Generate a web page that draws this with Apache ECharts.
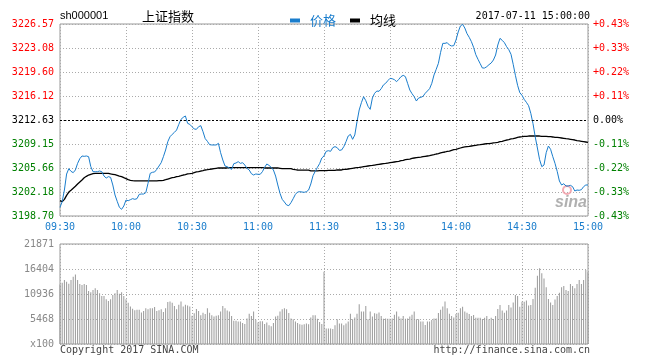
<!DOCTYPE html>
<html><head><meta charset="utf-8">
<script src="https://cdn.jsdelivr.net/npm/echarts@6/dist/echarts.min.js"></script>
<style>html,body{margin:0;padding:0;background:#fff}#c{width:650px;height:364px}</style>
</head><body><div id="c"></div>
<script>
const timeLabels = ['09:30','10:00','10:30','11:00','11:30','13:30','14:00','14:30','15:00'];
const priceTicks = [3198.70, 3202.18, 3205.66, 3209.15, 3212.63, 3216.12, 3219.60, 3223.08, 3226.57];
const pctLabels = ['-0.43%','-0.33%','-0.22%','-0.11%','0.00%','+0.11%','+0.22%','+0.33%','+0.43%'];
const volTicks = [0, 5468, 10936, 16404, 21871];
const volLabels = ['x100','5468','10936','16404','21871'];
const prevClose = 3212.63;

const price = [
3199.96,3200.78,3202.47,3204.79,3205.57,3205.18,3204.99,3205.38,3206.34,3207.02,
3207.41,3207.36,3207.41,3207.31,3205.86,3205.13,3205.13,3205.13,3205.23,3205.13,
3204.50,3204.21,3204.41,3204.31,3203.20,3201.75,3200.83,3199.96,3199.67,3200.15,
3201.02,3200.92,3201.07,3201.22,3201.12,3201.22,3201.84,3201.89,3201.89,3202.09,
3203.44,3204.89,3205.04,3205.09,3205.47,3205.96,3206.44,3207.31,3208.28,3209.49,
3210.21,3210.55,3210.84,3211.18,3212.00,3212.73,3213.02,3213.22,3212.15,3212.00,
3211.66,3211.33,3211.28,3211.66,3211.81,3210.94,3209.93,3209.54,3209.05,3209.01,
3209.01,3209.01,3209.25,3207.89,3206.83,3205.96,3205.86,3205.67,3205.47,3206.30,
3206.39,3206.59,3206.34,3206.44,3206.10,3205.62,3205.38,3204.84,3204.65,3204.80,
3204.75,3204.75,3205.13,3205.76,3206.25,3206.05,3205.76,3205.38,3204.50,3203.20,
3201.99,3201.12,3200.73,3200.30,3200.20,3200.64,3201.22,3201.84,3202.18,3202.23,
3202.18,3202.14,3202.23,3202.47,3203.35,3204.55,3205.18,3205.76,3206.30,3207.12,
3207.41,3208.09,3208.18,3208.09,3208.62,3208.77,3208.62,3208.23,3208.28,3208.77,
3209.49,3210.31,3210.55,3209.83,3210.46,3212.39,3214.09,3215.15,3216.02,3215.44,
3214.62,3214.18,3215.83,3216.51,3216.84,3216.80,3217.18,3217.72,3217.96,3218.34,
3218.68,3218.63,3218.49,3218.20,3218.54,3218.93,3219.12,3218.93,3217.96,3216.99,
3216.46,3216.02,3215.39,3215.83,3215.92,3216.07,3216.51,3216.84,3217.18,3217.96,
3219.17,3219.99,3220.86,3222.46,3223.76,3223.76,3223.86,3223.52,3223.38,3223.43,
3224.25,3225.41,3226.28,3226.52,3225.99,3225.17,3224.64,3224.01,3223.18,3222.12,
3221.44,3220.81,3220.18,3220.18,3220.38,3220.67,3220.91,3221.34,3222.07,3223.52,
3224.49,3224.20,3223.86,3223.28,3222.84,3222.17,3220.72,3219.12,3217.67,3216.60,
3216.22,3215.63,3215.20,3214.71,3213.60,3212.10,3210.21,3208.57,3206.88,3205.86,
3206.10,3207.89,3208.86,3208.38,3207.31,3206.34,3205.18,3203.78,3203.20,3203.39,
3203.05,3203.05,3203.15,3202.96,3202.33,3202.47,3202.43,3202.52,3202.96,3203.20,
3203.20
];

const avgLine = [
3200.93,3200.78,3201.12,3201.70,3202.18,3202.43,3202.72,3203.01,3203.35,3203.64,
3203.93,3204.26,3204.46,3204.65,3204.75,3204.84,3204.89,3204.89,3204.89,3204.89,
3204.89,3204.89,3204.89,3204.80,3204.75,3204.70,3204.60,3204.50,3204.41,3204.26,
3204.12,3203.97,3203.88,3203.83,3203.80,3203.80,3203.80,3203.80,3203.80,3203.80,
3203.80,3203.80,3203.80,3203.80,3203.80,3203.83,3203.83,3203.88,3203.97,3204.07,
3204.17,3204.26,3204.31,3204.41,3204.46,3204.55,3204.65,3204.70,3204.80,3204.84,
3204.89,3204.99,3205.09,3205.13,3205.23,3205.28,3205.38,3205.42,3205.47,3205.52,
3205.57,3205.62,3205.67,3205.67,3205.67,3205.67,3205.67,3205.72,3205.72,3205.72,
3205.72,3205.72,3205.72,3205.72,3205.72,3205.72,3205.72,3205.72,3205.72,3205.72,
3205.72,3205.72,3205.72,3205.67,3205.67,3205.67,3205.67,3205.67,3205.67,3205.67,
3205.62,3205.57,3205.57,3205.57,3205.57,3205.57,3205.47,3205.42,3205.38,3205.35,
3205.35,3205.35,3205.35,3205.35,3205.25,3205.25,3205.25,3205.25,3205.28,3205.28,
3205.28,3205.28,3205.33,3205.33,3205.33,3205.33,3205.38,3205.38,3205.38,3205.47,
3205.47,3205.52,3205.57,3205.62,3205.67,3205.72,3205.76,3205.81,3205.86,3205.91,
3205.96,3206.01,3206.05,3206.10,3206.15,3206.20,3206.25,3206.30,3206.34,3206.39,
3206.44,3206.49,3206.54,3206.59,3206.63,3206.73,3206.78,3206.88,3206.93,3206.97,
3207.07,3207.12,3207.17,3207.22,3207.26,3207.31,3207.36,3207.41,3207.46,3207.55,
3207.60,3207.70,3207.75,3207.85,3207.94,3207.99,3208.09,3208.13,3208.23,3208.33,
3208.38,3208.47,3208.57,3208.67,3208.72,3208.77,3208.81,3208.86,3208.91,3208.96,
3209.01,3209.05,3209.10,3209.15,3209.20,3209.20,3209.25,3209.30,3209.34,3209.39,
3209.49,3209.54,3209.63,3209.73,3209.78,3209.88,3209.92,3210.02,3210.12,3210.17,
3210.21,3210.26,3210.26,3210.31,3210.31,3210.31,3210.31,3210.31,3210.31,3210.26,
3210.26,3210.26,3210.21,3210.21,3210.17,3210.12,3210.12,3210.07,3210.02,3209.97,
3209.92,3209.88,3209.83,3209.78,3209.73,3209.63,3209.59,3209.54,3209.49,3209.44,
3209.39
];

const volume = [
13000,13400,14000,13600,13200,14000,14700,15200,14000,13100,
12900,13100,12900,11600,11300,11800,12200,11800,11100,10500,
10500,9800,9400,9800,10700,11100,11800,11000,11300,10500,
9800,9000,8200,7700,7400,7500,7500,6900,7200,7800,
7600,7800,7800,8100,7200,7400,7600,7000,7800,9200,
9300,9000,8300,7600,8600,9300,8200,8600,8400,8200,
6200,6700,7650,7200,6300,6850,6550,7800,6850,6300,
6000,6200,6300,7100,8300,7800,7300,7100,6100,5100,
5100,4900,4900,4600,4400,5600,6600,6100,7100,5300,
4700,5000,5000,4400,4700,4100,3900,4600,6000,6200,
7100,7600,7800,7600,6800,5600,5400,4900,4600,4300,
4200,4300,4500,4300,5800,6300,6300,5500,4800,4400,
15800,3400,3400,3400,3300,4100,5400,4500,4500,4100,
4500,4900,6600,5400,5800,6600,8700,7100,7100,8300,
5400,7100,6000,6700,6600,6900,6100,5500,5600,5500,
5500,5600,6400,7100,6000,5600,6100,5500,5600,6000,
6400,7100,5400,5400,4900,4900,4150,4900,4900,5250,
5600,5600,6800,7500,8200,9300,7800,6600,6100,5800,
6550,6850,7800,8150,7100,6850,6550,6100,6350,5750,
5750,5750,5450,5750,6100,5400,5750,5450,6100,7650,
8550,7300,6850,7300,8550,8000,9050,10700,10500,8150,
9250,9250,9500,8400,8550,9850,12300,14900,16550,15450,
14350,12400,9850,9050,8550,9750,10500,11200,12400,12700,
11800,11600,13100,12700,12200,13100,14000,13100,14000,16200,
15700
];

const MONO = 'DejaVu Sans Mono';
const RED = '#ff0000', GREEN = '#008000', BLUE = '#1a7dcc';
function tickColor(v) {
  if (Math.abs(v - prevClose) < 0.005) return '#000';
  return v > prevClose ? RED : GREEN;
}
function tickIndex(v) {
  let best = 0, d = Infinity;
  priceTicks.forEach((t, i) => { const e = Math.abs(t - v); if (e < d) { d = e; best = i; } });
  return best;
}
function volIndex(v) {
  let best = 0, d = Infinity;
  volTicks.forEach((t, i) => { const e = Math.abs(t - v); if (e < d) { d = e; best = i; } });
  return best;
}
const dotted = { color: '#aaa', type: [1, 2], width: 1 };

const chart = echarts.init(document.getElementById('c'), null, { renderer: 'canvas' });
chart.setOption({
  animation: false,
  backgroundColor: '#fff',
  legend: {
    left: 285, top: 9, itemWidth: 10, itemHeight: 4, itemGap: 14, icon: 'rect',
    selectedMode: false,
    textStyle: { fontSize: 13, fontFamily: 'Noto Sans CJK SC', padding: [0, 0, 0, 5] },
    data: [
      { name: '价格', textStyle: { color: BLUE } },
      { name: '均线', textStyle: { color: '#000' } }
    ]
  },
  grid: [
    { left: 60, top: 24, width: 528, height: 192, show: true, borderColor: '#999', borderWidth: 1 },
    { left: 60, top: 244, width: 528, height: 100, show: true, borderColor: '#999', borderWidth: 1 }
  ],
  xAxis: [
    { type: 'value', gridIndex: 0, min: 0, max: 240, interval: 30,
      axisLine: { show: false }, axisTick: { show: false },
      axisLabel: { margin: 6, color: BLUE, fontFamily: MONO, fontSize: 10,
        formatter: v => timeLabels[Math.round(v / 30)] },
      splitLine: { show: true, lineStyle: dotted } },
    { type: 'value', gridIndex: 1, min: 0, max: 240, interval: 30,
      axisLine: { show: false }, axisTick: { show: false }, axisLabel: { show: false },
      splitLine: { show: true, lineStyle: dotted } }
  ],
  yAxis: [
    { type: 'value', gridIndex: 0, position: 'left', min: 3198.70, max: 3226.57,
      axisLine: { show: false },
      axisTick: { show: false, customValues: priceTicks },
      axisLabel: { customValues: priceTicks, margin: 6, fontFamily: MONO, fontSize: 10,
        formatter: v => priceTicks[tickIndex(v)].toFixed(2),
        color: v => tickColor(priceTicks[tickIndex(v)]) },
      splitLine: { show: true, lineStyle: dotted } },
    { type: 'value', gridIndex: 0, position: 'right', min: 3198.70, max: 3226.57,
      axisLine: { show: false },
      axisTick: { show: false, customValues: priceTicks },
      axisLabel: { customValues: priceTicks, margin: 5, fontFamily: MONO, fontSize: 10,
        formatter: v => pctLabels[tickIndex(v)],
        color: v => tickColor(priceTicks[tickIndex(v)]) },
      splitLine: { show: false } },
    { type: 'value', gridIndex: 1, position: 'left', min: 0, max: 21871,
      axisLine: { show: false },
      axisTick: { show: false, customValues: volTicks },
      axisLabel: { customValues: volTicks, margin: 6, fontFamily: MONO, fontSize: 10, color: '#888',
        formatter: v => volLabels[volIndex(v)] },
      splitLine: { show: true, lineStyle: dotted } }
  ],
  series: [
    { name: '价格', type: 'line', xAxisIndex: 0, yAxisIndex: 0,
      data: price.map((v, i) => [i, v]), showSymbol: false, symbol: 'none',
      color: BLUE, lineStyle: { color: BLUE, width: 1 }, z: 3,
      markLine: { silent: true, symbol: 'none', label: { show: false },
        lineStyle: { color: '#000', type: [2, 2], width: 1 },
        data: [{ yAxis: prevClose }] } },
    { name: '均线', type: 'line', xAxisIndex: 0, yAxisIndex: 0,
      data: avgLine.map((v, i) => [i, v]), showSymbol: false, symbol: 'none',
      color: '#000', lineStyle: { color: '#000', width: 1.3 }, z: 2 },
    { name: '成交量', type: 'bar', xAxisIndex: 1, yAxisIndex: 2,
      data: volume.map((v, i) => [i, v]), barWidth: 1,
      itemStyle: { color: '#999' } }
  ],
  graphic: [
    { type: 'text', x: 60, y: 16, style: { text: 'sh000001', font: '11px "Liberation Sans"', fill: '#000', align: 'left', verticalAlign: 'middle' } },
    { type: 'text', x: 142, y: 16, style: { text: '上证指数', font: '13px "Noto Sans CJK SC"', fill: '#000', align: 'left', verticalAlign: 'middle' } },
    { type: 'text', x: 590, y: 16, style: { text: '2017-07-11 15:00:00', font: '10px "DejaVu Sans Mono"', fill: '#000', align: 'right', verticalAlign: 'middle' } },
    { type: 'text', x: 60, y: 350, style: { text: 'Copyright 2017 SINA.COM', font: '10px "DejaVu Sans Mono"', fill: '#444', align: 'left', verticalAlign: 'middle' } },
    { type: 'text', x: 590, y: 350, style: { text: 'http://finance.sina.com.cn', font: '10px "DejaVu Sans Mono"', fill: '#444', align: 'right', verticalAlign: 'middle' } },
    { type: 'circle', shape: { cx: 567, cy: 190, r: 4 }, style: { fill: 'none', stroke: 'rgba(240,150,160,0.8)', lineWidth: 2 }, z: 1 },
    { type: 'text', x: 571, y: 203, style: { text: 'sina', font: 'italic bold 16px "Liberation Sans"', fill: 'rgba(150,150,150,0.75)', align: 'center', verticalAlign: 'middle' }, z: 1 }
  ]
});
</script>
</body></html>
